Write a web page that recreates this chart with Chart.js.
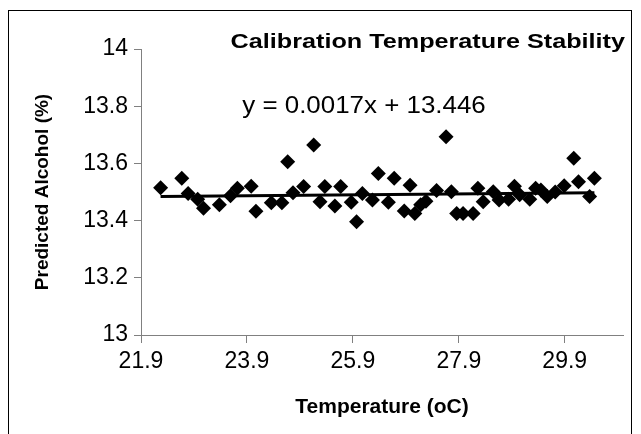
<!DOCTYPE html>
<html lang="en">
<head>
<meta charset="UTF-8">
<title>Calibration Temperature Stability</title>
<style>
  html, body { margin: 0; padding: 0; background: #fff; }
  #wrap { width: 641px; height: 434px; }
</style>
</head>
<body>
<div id="wrap"><canvas id="myChart" width="641" height="434"></canvas></div>

<script src="https://cdn.jsdelivr.net/npm/chart.js"></script>
<script>
// data
const temps = [22.27, 22.67, 22.79, 22.97, 23.08, 23.38, 23.59, 23.72, 23.98, 24.07,
               24.36, 24.56, 24.67, 24.77, 24.97, 25.16, 25.28, 25.37, 25.56, 25.67,
               25.87, 25.97, 26.08, 26.27, 26.38, 26.57, 26.68, 26.87, 26.98, 27.07,
               27.18, 27.28, 27.48, 27.66, 27.76, 27.86, 27.98, 28.17, 28.26, 28.36,
               28.55, 28.66, 28.84, 28.95, 29.05, 29.24, 29.35, 29.45, 29.57, 29.72,
               29.89, 30.07, 30.16, 30.37, 30.46];
const alcohol = [13.515, 13.548, 13.495, 13.475, 13.443, 13.455, 13.487, 13.513, 13.52, 13.433,
                 13.462, 13.462, 13.606, 13.497, 13.519, 13.664, 13.466, 13.519, 13.451, 13.519,
                 13.464, 13.396, 13.495, 13.472, 13.565, 13.464, 13.548, 13.434, 13.524, 13.425,
                 13.455, 13.468, 13.505, 13.693, 13.501, 13.425, 13.425, 13.425, 13.513, 13.466,
                 13.501, 13.472, 13.475, 13.52, 13.49, 13.475, 13.513, 13.507, 13.484, 13.5,
                 13.522, 13.618, 13.536, 13.484, 13.548];
const xTicks = [21.9, 23.9, 25.9, 27.9, 29.9];
const yTicks = [13, 13.2, 13.4, 13.6, 13.8, 14];
const trendSlope = 0.0017;
const trendIntercept = 13.446;
const chartTitle = 'Calibration Temperature Stability';
const eqText = 'y = 0.0017x + 13.446';

const v_font = '"Liberation Sans", Arial, sans-serif';

let v_points = temps.map((t, i) => ({ x: t, y: alcohol[i] }));
let v_t0 = temps[0];
let v_t1 = temps[temps.length - 1];
let v_trend = [
    { x: v_t0, y: trendSlope * v_t0 + trendIntercept },
    { x: v_t1, y: trendSlope * v_t1 + trendIntercept }
];

// text drawn a bit wider than the font, like the reference
function f_text(ctx, p_text, p_x, p_y, p_sx) {
    ctx.save();
    ctx.translate(p_x, p_y);
    ctx.scale(p_sx, 1);
    ctx.fillText(p_text, 0, 0);
    ctx.restore();
}

// frame, title and trendline equation
const extraText = {
    id: 'extraText',
    beforeDraw(chart) {
        const ctx = chart.ctx;
        ctx.save();
        ctx.fillStyle = '#fff';
        ctx.fillRect(0, 0, chart.width, chart.height);
        ctx.restore();
    },
    afterDraw(chart) {
        const ctx = chart.ctx;
        ctx.save();
        ctx.strokeStyle = '#000';
        ctx.lineWidth = 1;
        ctx.strokeRect(8.5, 10.5, 623, 440);
        ctx.fillStyle = '#000';
        ctx.textBaseline = 'middle';
        ctx.textAlign = 'right';
        ctx.font = 'bold 21px ' + v_font;
        f_text(ctx, chartTitle, 625, 42, 1.2);
        ctx.textAlign = 'center';
        ctx.font = '24px ' + v_font;
        f_text(ctx, eqText, 364, 106, 1.08);
        ctx.restore();
    }
};

const ctx = document.getElementById('myChart');
new Chart(ctx, {
    data: {
        datasets: [{
            type: 'scatter',
            data: v_points,
            pointStyle: 'rectRot',
            pointRadius: 7.5,
            backgroundColor: '#000',
            borderWidth: 0
        }, {
            type: 'line',
            data: v_trend,
            borderColor: '#000',
            borderWidth: 3,
            pointRadius: 0,
            fill: false
        }]
    },
    options: {
        responsive: false,
        animation: false,
        devicePixelRatio: 1,
        layout: { padding: { top: 49, right: 18, left: 0, bottom: 0 } },
        plugins: {
            legend: { display: false },
            tooltip: { enabled: false }
        },
        scales: {
            x: {
                type: 'linear',
                min: 21.9,
                max: 31,
                afterBuildTicks: (s) => { s.ticks = xTicks.map(v => ({ value: v })); },
                afterFit: (s) => { s.height = 99; },
                ticks: {
                    color: '#000',
                    font: { family: v_font, size: 23 },
                    padding: 5,
                    callback: (v) => Number(v).toFixed(1)
                },
                grid: { drawOnChartArea: false, tickLength: 8, color: '#808080' },
                border: { color: '#808080' },
                title: {
                    display: true,
                    text: 'Temperature (oC)',
                    color: '#000',
                    font: { family: v_font, size: 21, weight: 'bold' },
                    padding: { top: 0, bottom: 14 }
                }
            },
            y: {
                min: 13,
                max: 14,
                afterBuildTicks: (s) => { s.ticks = yTicks.map(v => ({ value: v })); },
                afterFit: (s) => { s.width = 141; },
                ticks: {
                    color: '#000',
                    font: { family: v_font, size: 23 },
                    padding: 6,
                    callback: (v) => String(Number(v.toFixed(1)))
                },
                grid: { drawOnChartArea: false, tickLength: 7, color: '#808080' },
                border: { color: '#808080' },
                title: {
                    display: true,
                    text: 'Predicted Alcohol (%)',
                    color: '#000',
                    font: { family: v_font, size: 19, weight: 'bold' },
                    padding: { top: 31, bottom: 0 }
                }
            }
        }
    },
    plugins: [extraText]
});
</script>
</body>
</html>
